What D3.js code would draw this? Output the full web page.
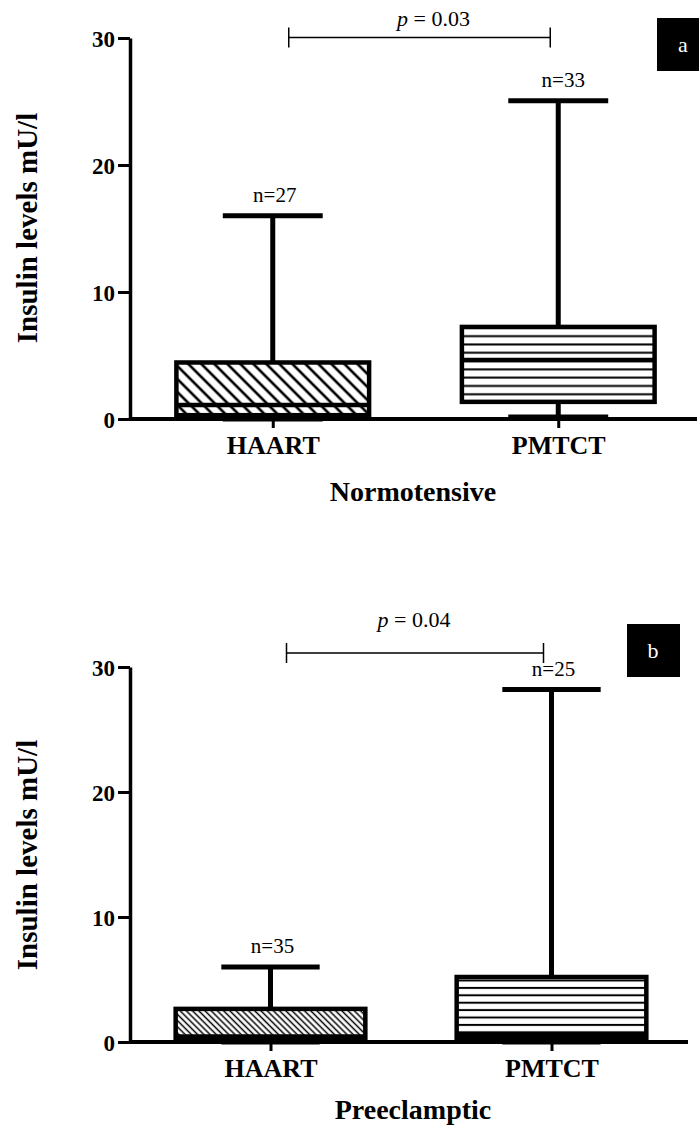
<!DOCTYPE html>
<html>
<head>
<meta charset="utf-8">
<script src="https://cdn.jsdelivr.net/npm/d3@7"></script>
<style>
  body { margin: 0; background: #fff; }
  svg { display: block; }
  svg text { font-family: "Liberation Serif", "Times New Roman", Times, serif; }
</style>
</head>
<body>
<div id="chart"></div>
<script>
// groups + box stats (insulin mU/l)
var groups = ["HAART", "PMTCT"];
var yTicks = [0, 10, 20, 30];

var normoMin = [0, 0.15];
var normoQ1 = [0.3, 1.35];
var normoMed = [1.1, 4.65];
var normoQ3 = [4.45, 7.25];
var normoMax = [16, 25.05];
var normoN = [27, 33];

var preMin = [0, 0];
var preQ1 = [0.3, 0.25];
var preMed = [0.45, 0.55];
var preQ3 = [2.65, 5.2];
var preMax = [6, 28.2];
var preN = [35, 25];

var pValues = ["0.03", "0.04"];
var panelLetters = ["a", "b"];
var panelTitles = ["Normotensive", "Preeclamptic"];

var W = 699, H = 1126;

var svg = d3.select("#chart").append("svg")
	.attr("width", W)
	.attr("height", H);

var defs = svg.append("defs");

// hatch patterns
function diagPattern(id, s, sw) {
	var p = defs.append("pattern")
		.attr("id", id)
		.attr("patternUnits", "userSpaceOnUse")
		.attr("width", s)
		.attr("height", s)
		.attr("patternTransform", "rotate(-45)");
	p.append("rect").attr("width", s).attr("height", s).attr("fill", "#fff");
	p.append("line")
		.attr("x1", s / 2).attr("y1", 0)
		.attr("x2", s / 2).attr("y2", s)
		.attr("stroke", "#000")
		.attr("stroke-width", sw);
}
function horizPattern(id, s, sw) {
	var p = defs.append("pattern")
		.attr("id", id)
		.attr("patternUnits", "userSpaceOnUse")
		.attr("width", 10)
		.attr("height", s);
	p.append("rect").attr("width", 10).attr("height", s).attr("fill", "#fff");
	p.append("line")
		.attr("x1", 0).attr("y1", s / 2)
		.attr("x2", 10).attr("y2", s / 2)
		.attr("stroke", "#000")
		.attr("stroke-width", sw);
}
diagPattern("diagA", 9.2, 2.6);
diagPattern("diagB", 4.4, 1.5);
horizPattern("horA", 8.3, 2);
horizPattern("horB", 7.4, 2);

var panels = [
	{ top: 38, bottom: 419, x0: 130, x1: 701, min: normoMin, q1: normoQ1, med: normoMed, q3: normoQ3, max: normoMax, n: normoN,
	  fills: ["url(#diagA)", "url(#horA)"], bracketY: 37.5, pY: 26, pDx: 14, catY: 454, titleY: 501, labelY: 228, letterY: 18, letterX: 657 },
	{ top: 667, bottom: 1042, x0: 130, x1: 692, min: preMin, q1: preQ1, med: preMed, q3: preQ3, max: preMax, n: preN,
	  fills: ["url(#diagB)", "url(#horB)"], bracketY: 653, pY: 627, pDx: -1, catY: 1077, titleY: 1119, labelY: 855, letterY: 624, letterX: 627 }
];

panels.forEach(function(pn, k) {
	var g = svg.append("g");

	var y = d3.scaleLinear()
		.domain([0, 30])
		.range([pn.bottom, pn.top]);

	var x = d3.scalePoint()
		.domain(groups)
		.range([pn.x0, pn.x1])
		.padding(0.5);

	var step = x.step();
	var boxW = step * 0.675;
	var capW = step * 0.35;

	var rows = groups.map(function(d, i) {
		return { name: d, min: pn.min[i], q1: pn.q1[i], med: pn.med[i], q3: pn.q3[i], max: pn.max[i], n: pn.n[i], fill: pn.fills[i] };
	});

	// whiskers
	g.selectAll(".whisk")
		.data(rows)
		.enter()
		.append("path")
		.attr("d", function(d) {
			var cx = x(d.name);
			return "M" + cx + "," + y(d.q3) + "V" + y(d.max) +
				"M" + (cx - capW / 2) + "," + y(d.max) + "H" + (cx + capW / 2) +
				"M" + cx + "," + y(d.q1) + "V" + y(d.min) +
				"M" + (cx - capW / 2) + "," + y(d.min) + "H" + (cx + capW / 2);
		})
		.attr("fill", "none")
		.attr("stroke", "#000")
		.attr("stroke-width", 5);

	// boxes
	g.selectAll(".box")
		.data(rows)
		.enter()
		.append("rect")
		.attr("x", function(d) { return x(d.name) - boxW / 2 })
		.attr("y", function(d) { return y(d.q3) })
		.attr("width", boxW)
		.attr("height", function(d) { return y(d.q1) - y(d.q3) })
		.attr("fill", function(d) { return d.fill })
		.attr("stroke", "#000")
		.attr("stroke-width", 4.5);

	g.selectAll(".median")
		.data(rows)
		.enter()
		.append("line")
		.attr("x1", function(d) { return x(d.name) - boxW / 2 })
		.attr("x2", function(d) { return x(d.name) + boxW / 2 })
		.attr("y1", function(d) { return y(d.med) })
		.attr("y2", function(d) { return y(d.med) })
		.attr("stroke", "#000")
		.attr("stroke-width", 4.5);

	// n labels
	g.selectAll(".nlab")
		.data(rows)
		.enter()
		.append("text")
		.text(function(d) { return "n=" + d.n })
		.attr("x", function(d) { return x(d.name) + (d.name == "PMTCT" && k == 0 ? 5 : 2) })
		.attr("y", function(d) { return y(d.max) - 14 })
		.style("font-size", "21px")
		.style("text-anchor", "middle");

	// axes
	var yAxis = d3.axisLeft(y).tickValues(yTicks).tickSize(12).tickSizeOuter(0).tickPadding(3);
	var ya = g.append("g")
		.attr("transform", "translate(" + pn.x0 + ",0)")
		.call(yAxis);
	ya.attr("font-family", null);
	ya.select(".domain").attr("stroke-width", 3.5);
	ya.selectAll(".tick line").attr("stroke-width", 3);
	ya.selectAll(".tick text")
		.attr("dy", "0.35em")
		.style("font-size", "23px")
		.style("font-weight", "bold")
		.attr("fill", "#000");

	var xAxis = d3.axisBottom(x).tickSize(9).tickSizeOuter(0);
	var xa = g.append("g")
		.attr("transform", "translate(0," + pn.bottom + ")")
		.call(xAxis);
	xa.attr("font-family", null);
	xa.select(".domain").attr("d", "M" + pn.x0 + ",0H" + (pn.x1 - 4)).attr("stroke-width", 3.8);
	xa.selectAll(".tick line").attr("stroke-width", 3);
	xa.selectAll(".tick text")
		.attr("y", pn.catY - pn.bottom)
		.attr("dy", 0)
		.style("font-size", "26px")
		.style("font-weight", "bold")
		.attr("fill", "#000");

	// x title
	g.append("text")
		.text(panelTitles[k])
		.attr("x", 413)
		.attr("y", pn.titleY)
		.style("font-size", "28px")
		.style("font-weight", "bold")
		.style("text-anchor", "middle");

	// y title
	g.append("text")
		.text("Insulin levels mU/l")
		.attr("transform", "translate(37," + pn.labelY + ") rotate(-90)")
		.style("font-size", "29px")
		.style("font-weight", "bold")
		.style("text-anchor", "middle");

	// significance bracket
	var bx0 = x("HAART") + 16, bx1 = x("PMTCT") - 8;
	g.append("path")
		.attr("d", "M" + bx0 + "," + (pn.bracketY - 10) + "V" + (pn.bracketY + 10) +
			"M" + bx0 + "," + pn.bracketY + "H" + bx1 +
			"M" + bx1 + "," + (pn.bracketY - 10) + "V" + (pn.bracketY + 10))
		.attr("fill", "none")
		.attr("stroke", "#000")
		.attr("stroke-width", 1.5);

	var pt = g.append("text")
		.attr("x", (bx0 + bx1) / 2 + pn.pDx)
		.attr("y", pn.pY)
		.style("font-size", "22px")
		.style("text-anchor", "middle");
	pt.append("tspan").style("font-style", "italic").text("p");
	pt.append("tspan").text(" = " + pValues[k]);

	// panel letter
	g.append("rect")
		.attr("x", pn.letterX)
		.attr("y", pn.letterY)
		.attr("width", 53)
		.attr("height", 53)
		.attr("fill", "#000");
	g.append("text")
		.text(panelLetters[k])
		.attr("x", pn.letterX + 26)
		.attr("y", pn.letterY + 34)
		.style("font-size", "22px")
		.style("text-anchor", "middle")
		.attr("fill", "#fff");
});
</script>
</body>
</html>
